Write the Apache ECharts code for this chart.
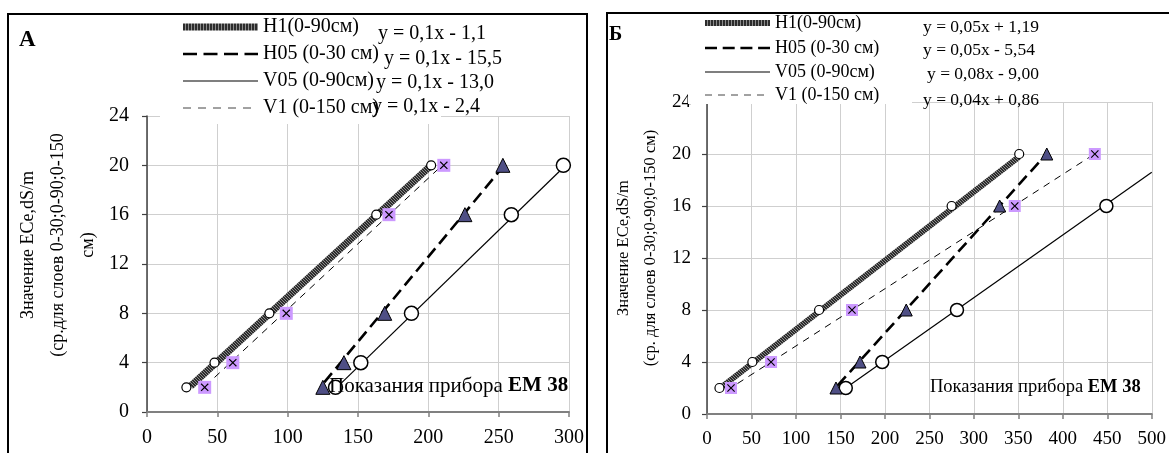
<!DOCTYPE html>
<html><head><meta charset="utf-8">
<script src="https://cdn.jsdelivr.net/npm/echarts@6/dist/echarts.min.js"></script>
<style>html,body{margin:0;padding:0;background:#fff}#c{width:1169px;height:453px}</style>
</head><body><div id="c"></div>
<script>
// ---- names / labels ----
const seriesNames = ['H1(0-90см)', 'H05 (0-30 см)', 'V05 (0-90см)', 'V1 (0-150 см)'];
const equationsA = ['y = 0,1x - 1,1', 'y = 0,1x - 15,5', 'y = 0,1x - 13,0', 'y = 0,1x - 2,4'];
const equationsB = ['y = 0,05x + 1,19', 'y = 0,05x - 5,54', 'y = 0,08x - 9,00', 'y = 0,04x + 0,86'];
const yTitleA = 'Значение ECe,dS/m\n(ср.для слоев 0-30;0-90;0-150\nсм)';
const yTitleB = 'Значение ECe,dS/m\n(ср. для слоев 0-30;0-90;0-150 см)';
const xNote = 'Показания прибора ';
const xNoteBold = 'EM 38';
const xAxisA = [0, 300, 50];
const xAxisB = [0, 500, 50];
const yAxisAB = [0, 24, 4];

// ---- chart A data (EM38 reading, ECe) ----
const aH1 = [[28, 2], [48, 4], [87, 8], [163, 16], [202, 20]];
const aH05 = [[125, 2], [140, 4], [169, 8], [226, 16], [253, 20]];
const aV05 = [[134, 2], [152, 4], [188, 8], [259, 16], [296, 20]];
const aV1 = [[41, 2], [61, 4], [99, 8], [172, 16], [211, 20]];
// trend lines as drawn (end points)
const aH1Fit = [[31, 2.1], [201, 19.9]];
const aH05Fit = [[126, 2.4], [251, 19.6]];
const aV05Fit = [[135, 2.0], [294, 19.6]];
const aV1Fit = [[48, 2.8], [207, 19.7]];

// ---- chart B data ----
const bH1 = [[14, 2], [51, 4], [126, 8], [275, 16], [351, 20]];
const bH05 = [[145, 2], [172, 4], [224, 8], [329, 16], [382, 20]];
const bV05 = [[156, 2], [197, 4], [281, 8], [449, 16]];
const bV1 = [[27, 2], [72, 4], [163, 8], [346, 16], [436, 20]];
const bH1Fit = [[15, 2.0], [351, 19.8]];
const bH05Fit = [[147, 2.2], [379, 19.8]];
const bV05Fit = [[156, 2.0], [500, 18.6]];
const bV1Fit = [[22, 1.8], [431, 19.8]];

const FONT = "'Liberation Serif','Times New Roman',serif";

// striped texture for the H1 line
function makePattern(w, h, dark, light, pix) {
  const c = document.createElement('canvas');
  c.width = w; c.height = h;
  const g = c.getContext('2d');
  g.fillStyle = dark; g.fillRect(0, 0, w, h);
  g.fillStyle = light;
  pix.forEach(p => g.fillRect(p[0], p[1], 1, 1));
  return { image: c, repeat: 'repeat' };
}
const h1Pattern = makePattern(3, 3, '#2c2c2c', '#8c8c8c', [[0, 0], [1, 1], [2, 2]]);
const h1LegendPattern = makePattern(3, 1, '#2c2c2c', '#8c8c8c', [[2, 0]]);

const XMARK = 'path://M1,0L5,4L9,0L10,1L6,5L10,9L9,10L5,6L1,10L0,9L4,5L0,1Z';

function xAx(gi, r, fs) {
  return {
    type: 'value', gridIndex: gi, min: r[0], max: r[1], interval: r[2],
    axisLine: { show: true, lineStyle: { color: '#808080', width: 2 } },
    axisTick: { show: true, inside: false, length: 5, lineStyle: { color: '#808080', width: 1.5 } },
    axisLabel: { color: '#000', fontFamily: FONT, fontSize: fs, margin: 16 },
    splitLine: { show: true, lineStyle: { color: '#cfcfcf', width: 1 } }
  };
}
function yAx(gi, r, fs, margin) {
  return {
    type: 'value', gridIndex: gi, min: r[0], max: r[1], interval: r[2],
    axisLine: { show: true, lineStyle: { color: '#404040', width: 1.5 } },
    axisTick: { show: true, inside: false, length: 5, lineStyle: { color: '#404040', width: 1.2 } },
    axisLabel: { color: '#000', fontFamily: FONT, fontSize: fs, margin: margin },
    splitLine: { show: true, lineStyle: { color: '#cfcfcf', width: 1.2 } }
  };
}

function panelSeries(gi, d, s) {
  const ax = { xAxisIndex: gi, yAxisIndex: gi };
  const fitLine = (name, data, ls) => Object.assign({
    type: 'line', name: name, data: data, symbol: 'none', silent: true,
    lineStyle: ls, z: 2, animation: false
  }, ax);
  const pts = (name, data, sym, size, fill, bc, bw) => Object.assign({
    type: 'scatter', name: name, data: data, symbol: sym, symbolSize: size,
    itemStyle: { color: fill, borderColor: bc, borderWidth: bw, opacity: 1 }, z: 4, animation: false, silent: true
  }, ax);
  return [
    fitLine(seriesNames[3], d.v1Fit, { color: '#000', width: 1, type: [7, 6] }),
    fitLine(seriesNames[2], d.v05Fit, { color: '#000', width: 1.2, type: 'solid' }),
    fitLine(seriesNames[1], d.h05Fit, { color: '#000', width: 2.6, type: [12, 6] }),
    fitLine(seriesNames[0], d.h1Fit, { color: h1Pattern, width: s.h1w, type: 'solid', cap: 'butt' }),
    pts('pH1', d.h1, 'circle', s.c1, '#fff', '#000', 1.2),
    pts('pV05', d.v05, 'circle', s.c2, '#fff', '#000', 1.5),
    pts('pH05', d.h05, 'triangle', s.tri, '#4f4f85', '#000', 1),
    pts('pV1sq', d.v1, 'rect', s.sq, '#cc99ff', '#cc99ff', 0),
    pts('pV1x', d.v1, XMARK, s.xm, '#000', '#000', 0)
  ];
}

// manual legend (line samples + labels)
function legendGraphics(x0, x1, rows, fs, h1h, dashA, dashB) {
  const out = [];
  const tx = x1 + 5;
  out.push({ type: 'rect', z: 30, shape: { x: x0, y: rows[0] - h1h / 2, width: x1 - x0, height: h1h }, style: { fill: h1LegendPattern } });
  out.push({ type: 'line', z: 30, shape: { x1: x0, y1: rows[1], x2: x1, y2: rows[1] }, style: { stroke: '#000', lineWidth: 2.6, lineDash: dashA } });
  out.push({ type: 'line', z: 30, shape: { x1: x0, y1: rows[2], x2: x1, y2: rows[2] }, style: { stroke: '#000', lineWidth: 1.2 } });
  out.push({ type: 'line', z: 30, shape: { x1: x0, y1: rows[3], x2: x1, y2: rows[3] }, style: { stroke: '#444', lineWidth: 1, lineDash: dashB } });
  seriesNames.forEach((n, i) => out.push({
    type: 'text', x: tx, y: rows[i], z: 30,
    style: { text: n, fontFamily: FONT, fontSize: fs, fill: '#000', align: 'left', verticalAlign: 'middle' }
  }));
  return out;
}

function eqTexts(list, xs, ys, fs) {
  return list.map((t, i) => ({
    type: 'text', x: xs[i], y: ys[i], z: 50,
    style: { text: t, fontFamily: FONT, fontSize: fs, fill: '#000', align: 'left', verticalAlign: 'middle' }
  }));
}

const chart = echarts.init(document.getElementById('c'), null, { renderer: 'canvas' });

const option = {
  animation: false,
  backgroundColor: '#fff',
  grid: [
    { left: 147, top: 116, width: 422, height: 296 },
    { left: 707, top: 102, width: 452, height: 312 }
  ],
  xAxis: [xAx(0, xAxisA, 20), xAx(1, xAxisB, 19)],
  yAxis: [yAx(0, yAxisAB, 20, 18), yAx(1, yAxisAB, 19, 16)],
  graphic: [].concat([
    // white areas behind legends
    { type: 'rect', z: 10, shape: { x: 160, y: 15, width: 281, height: 109 }, style: { fill: '#fff' } },
    { type: 'rect', z: 10, shape: { x: 688, y: 14, width: 224, height: 90 }, style: { fill: '#fff' } },
    // panel frames
    { type: 'rect', z: 60, shape: { x: 8, y: 14, width: 579, height: 470 }, style: { fill: 'none', stroke: '#000', lineWidth: 2 } },
    { type: 'rect', z: 60, shape: { x: 607, y: 13, width: 600, height: 470 }, style: { fill: 'none', stroke: '#000', lineWidth: 2 } },
    // panel letters
    { type: 'text', x: 19, y: 40, z: 50, style: { text: 'А', fontFamily: FONT, fontSize: 23, fontWeight: 'bold', fill: '#000', align: 'left', verticalAlign: 'middle' } },
    { type: 'text', x: 609, y: 35, z: 50, style: { text: 'Б', fontFamily: FONT, fontSize: 20, fontWeight: 'bold', fill: '#000', align: 'left', verticalAlign: 'middle' } },
    // y axis titles
    { type: 'text', x: 58, y: 245, rotation: Math.PI / 2, z: 50, style: { text: yTitleA, fontFamily: FONT, fontSize: 18, lineHeight: 30, fill: '#000', align: 'center', verticalAlign: 'middle' } },
    { type: 'text', x: 637, y: 248, rotation: Math.PI / 2, z: 50, style: { text: yTitleB, fontFamily: FONT, fontSize: 16.5, lineHeight: 27, fill: '#000', align: 'center', verticalAlign: 'middle' } },
    // x notes
    { type: 'text', x: 329, y: 386, z: 50, style: { text: xNote + '{b|' + xNoteBold + '}', fontFamily: FONT, fontSize: 21, fill: '#000', align: 'left', verticalAlign: 'middle', rich: { b: { fontFamily: FONT, fontSize: 21, fontWeight: 'bold', fill: '#000' } } } },
    { type: 'text', x: 930, y: 387, z: 50, style: { text: xNote + '{b|' + xNoteBold + '}', fontFamily: FONT, fontSize: 18.5, fill: '#000', align: 'left', verticalAlign: 'middle', rich: { b: { fontFamily: FONT, fontSize: 18.5, fontWeight: 'bold', fill: '#000' } } } }
  ],
    legendGraphics(183, 258, [27, 54, 81, 108], 20, 7, [14, 6.5], [8, 7]),
    legendGraphics(705, 770, [23, 48, 72, 95], 18, 6, [12, 5.7], [7, 6]),
    eqTexts(equationsA, [378, 384, 376, 372], [34, 59, 83, 107], 20),
    eqTexts(equationsB, [923, 923, 927, 923], [27, 50, 74, 100], 17.5)
  ),
  series: [].concat(
    panelSeries(0, { h1: aH1, h05: aH05, v05: aV05, v1: aV1, h1Fit: aH1Fit, h05Fit: aH05Fit, v05Fit: aV05Fit, v1Fit: aV1Fit },
      { h1w: 7, c1: 9, c2: 14, tri: 14, sq: 13, xm: 8 }),
    panelSeries(1, { h1: bH1, h05: bH05, v05: bV05, v1: bV1, h1Fit: bH1Fit, h05Fit: bH05Fit, v05Fit: bV05Fit, v1Fit: bV1Fit },
      { h1w: 6, c1: 9, c2: 13, tri: 12, sq: 12, xm: 8 })
  )
};
chart.setOption(option);
</script></body></html>
